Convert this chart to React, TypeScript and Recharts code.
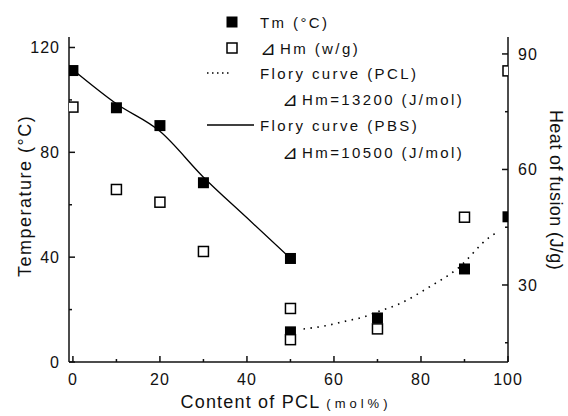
import { ComposedChart, Line, Scatter, XAxis, YAxis, Label } from "recharts";

// PCL content (mol%) of each blend sample
const pclContent = [0, 10, 20, 30, 50, 50, 70, 90, 100];
// melting temperature Tm (°C), left axis
const meltingTemp = [111.2, 97, 90.2, 68.4, 39.5, 11.5, 16.8, 35.5, 55.4];
// heat of fusion ΔHm (J/g), right axis
const heatOfFusion = [76.2, 54.8, 51.5, 38.7, 23.9, 15.8, 18.6, 47.6, 85.6];

// Flory curves
const pbsCurveX = [0, 10, 20, 30, 40, 51];
const pbsCurveY = [111.5, 98.5, 88, 70.5, 55, 38];
const pclCurveX = [53, 58, 63, 66, 70.6, 74.5, 82, 88.3, 95.9, 97.5];
const pclCurveY = [12.6, 13.8, 15.7, 16.8, 19.5, 21.8, 28.7, 35.5, 47.8, 49.5];

const xTicks = [0, 10, 20, 30, 40, 50, 60, 70, 80, 90, 100];
const leftTicks = [0, 20, 40, 60, 80, 100, 120];
const rightTicks = [15, 30, 45, 60, 75, 90];

const tmData = pclContent.map((x, i) => ({ x, y: meltingTemp[i] }));
const hmData = pclContent.map((x, i) => ({ x, y: heatOfFusion[i] }));
const pbsData = pbsCurveX.map((x, i) => ({ x, y: pbsCurveY[i] }));
const pclData = pclCurveX.map((x, i) => ({ x, y: pclCurveY[i] }));

const FONT = "'Liberation Sans', Arial, sans-serif";
const INK = "#111";

const XTick = (props: any) => {
  const { x, y, payload } = props;
  const major = payload.value % 20 === 0;
  return (
    <g>
      <line x1={x} x2={x} y1={y} y2={y - (major ? 6 : 3)} stroke={INK} strokeWidth={1.5} />
      {major && (
        <text x={x} y={y + 23} textAnchor="middle" fontSize={16} letterSpacing={1} fontFamily={FONT} fill={INK}>
          {payload.value}
        </text>
      )}
    </g>
  );
};

const LeftTick = (props: any) => {
  const { x, y, payload } = props;
  const major = payload.value % 40 === 0;
  return (
    <g>
      <line x1={x} x2={x + (major ? 6 : 3)} y1={y} y2={y} stroke={INK} strokeWidth={1.5} />
      {major && (
        <text x={x - 9} y={y + 6} textAnchor="end" fontSize={16} letterSpacing={1} fontFamily={FONT} fill={INK}>
          {payload.value}
        </text>
      )}
    </g>
  );
};

const RightTick = (props: any) => {
  const { x, y, payload } = props;
  const major = payload.value % 30 === 0;
  return (
    <g>
      <line x1={x} x2={x - (major ? 6 : 3)} y1={y} y2={y} stroke={INK} strokeWidth={1.5} />
      {major && (
        <text x={x + 10} y={y + 6} textAnchor="start" fontSize={16} letterSpacing={1} fontFamily={FONT} fill={INK}>
          {payload.value}
        </text>
      )}
    </g>
  );
};

const FilledSquare = (props: any) => (
  <rect x={props.cx - 5.5} y={props.cy - 5.5} width={11} height={11} fill="#000" />
);

const OpenSquare = (props: any) => (
  <rect x={props.cx - 5} y={props.cy - 5} width={10} height={10} fill="#fff" stroke="#000" strokeWidth={1.5} />
);

const legendText = { fontSize: 15, letterSpacing: 2.4, fontFamily: FONT, fill: INK, dominantBaseline: "central" } as const;
const Delta = () => <tspan fontSize={19} letterSpacing={4}>⊿</tspan>;

export default function App() {
  return (
    <div style={{ position: "absolute", left: 0, top: 0, width: 568, height: 416, background: "#fff" }}>
      <ComposedChart width={568} height={416} margin={{ top: 37, right: 0, bottom: 0, left: 0 }}>
        <XAxis
          type="number"
          dataKey="x"
          domain={[-0.9, 100]}
          ticks={xTicks}
          interval={0}
          allowDataOverflow
          height={54}
          tickSize={0}
          tickMargin={0}
          tickLine={false}
          tick={<XTick />}
          axisLine={{ stroke: INK, strokeWidth: 1.5 }}
        >
          <Label
            content={() => (
              <text x={286} y={408} textAnchor="middle" fontFamily={FONT} fill={INK}>
                <tspan fontSize={18} letterSpacing={1.2}>Content of PCL</tspan>
                <tspan fontSize={13} letterSpacing={4} dx={6}>(mol%)</tspan>
              </text>
            )}
          />
        </XAxis>
        <YAxis
          yAxisId="left"
          type="number"
          dataKey="y"
          domain={[0, 124]}
          ticks={leftTicks}
          interval={0}
          allowDataOverflow
          width={69}
          tickSize={0}
          tickMargin={0}
          tickLine={false}
          tick={<LeftTick />}
          axisLine={{ stroke: INK, strokeWidth: 1.5 }}
        >
          <Label
            content={() => (
              <text
                x={31}
                y={196}
                transform="rotate(-90 31 196)"
                textAnchor="middle"
                fontSize={18}
                letterSpacing={1.5}
                fontFamily={FONT}
                fill={INK}
              >
                Temperature (°C)
              </text>
            )}
          />
        </YAxis>
        <YAxis
          yAxisId="right"
          orientation="right"
          type="number"
          dataKey="y"
          domain={[10, 94.4]}
          ticks={rightTicks}
          interval={0}
          allowDataOverflow
          width={60}
          tickSize={0}
          tickMargin={0}
          tickLine={false}
          tick={<RightTick />}
          axisLine={{ stroke: INK, strokeWidth: 1.5 }}
        >
          <Label
            content={() => (
              <text
                x={550}
                y={190}
                transform="rotate(90 550 190)"
                textAnchor="middle"
                fontSize={18}
                letterSpacing={0.4}
                fontFamily={FONT}
                fill={INK}
              >
                Heat of fusion (J/g)
              </text>
            )}
          />
        </YAxis>

        <Line
          yAxisId="left"
          data={pbsData}
          dataKey="y"
          type="monotone"
          stroke="#000"
          strokeWidth={1.3}
          dot={false}
          activeDot={false}
          isAnimationActive={false}
        />
        <Line
          yAxisId="left"
          data={pclData}
          dataKey="y"
          type="monotone"
          stroke="#000"
          strokeWidth={1.6}
          strokeDasharray="1.5 5.5"
          dot={false}
          activeDot={false}
          isAnimationActive={false}
        />
        <Scatter yAxisId="left" data={tmData} dataKey="y" shape={<FilledSquare />} isAnimationActive={false} />
        <Scatter yAxisId="right" data={hmData} dataKey="y" shape={<OpenSquare />} isAnimationActive={false} />
      </ComposedChart>

      <svg width={568} height={416} style={{ position: "absolute", left: 0, top: 0, pointerEvents: "none" }}>
        <rect x={226.5} y={16.5} width={11} height={11} fill="#000" />
        <text x={260} y={22} {...legendText}>Tm (°C)</text>
        <rect x={227} y={43} width={10} height={10} fill="#fff" stroke="#000" strokeWidth={1.5} />
        <text x={260} y={48} {...legendText}><Delta />Hm (w/g)</text>
        <line x1={207} x2={231} y1={73} y2={73} stroke="#000" strokeWidth={1.6} strokeDasharray="1.5 3.5" />
        <text x={260} y={73} {...legendText}>Flory curve (PCL)</text>
        <text x={282} y={99} {...legendText}><Delta />Hm=13200 (J/mol)</text>
        <line x1={207} x2={254} y1={125} y2={125} stroke="#000" strokeWidth={1.3} />
        <text x={260} y={125} {...legendText}>Flory curve (PBS)</text>
        <text x={282} y={152} {...legendText}><Delta />Hm=10500 (J/mol)</text>
      </svg>
    </div>
  );
}
